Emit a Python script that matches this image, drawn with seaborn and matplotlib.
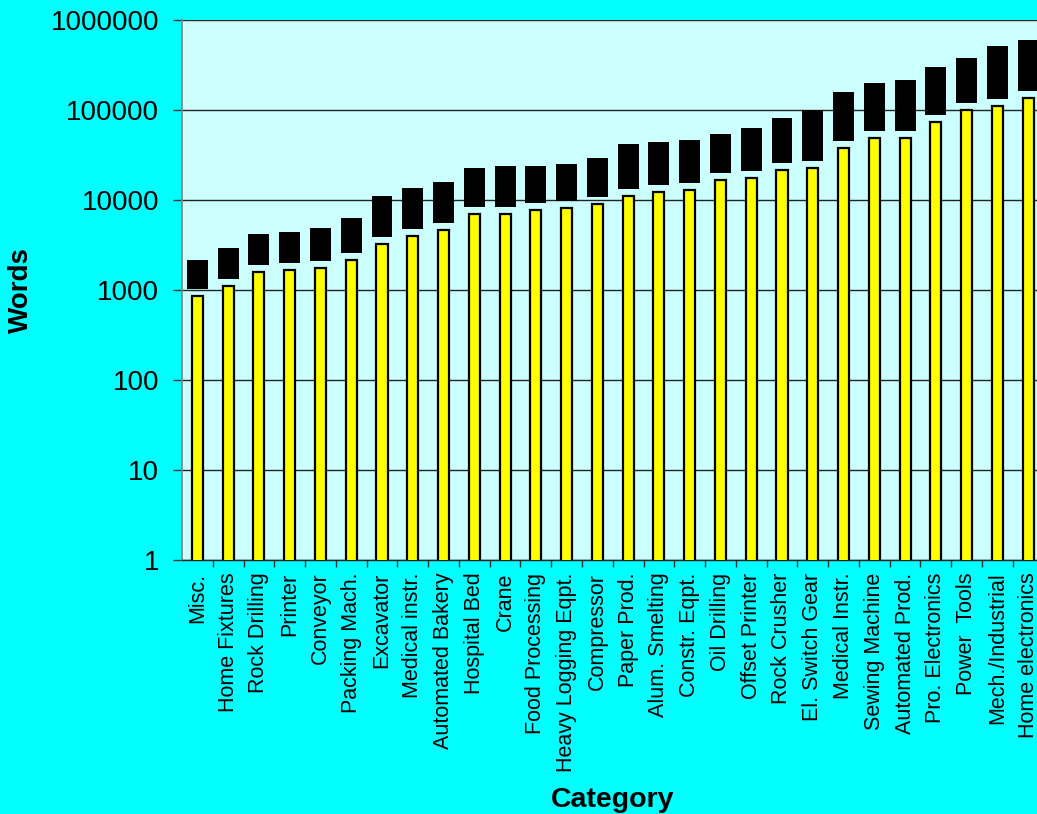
import matplotlib
matplotlib.use("Agg")
import matplotlib.pyplot as plt
import matplotlib.ticker as mticker
import numpy as np
import pandas as pd
import seaborn as sns

# --- chart data ---
categories = ["Misc.", "Home Fixtures", "Rock Drilling", "Printer", "Conveyor",
              "Packing Mach.", "Excavator", "Medical instr.", "Automated Bakery",
              "Hospital Bed", "Crane", "Food Processing", "Heavy Logging Eqpt.",
              "Compressor", "Paper Prod.", "Alum. Smelting", "Constr. Eqpt.",
              "Oil Drilling", "Offset Printer", "Rock Crusher", "El. Switch Gear",
              "Medical Instr.", "Sewing Machine", "Automated Prod.", "Pro. Electronics",
              "Power  Tools", "Mech./Industrial", "Home electronics"]

words = [860, 1110, 1590, 1670, 1760, 2150, 3250, 3980, 4640, 6990,
         6990, 7740, 8150, 9100, 11080, 12270, 12900, 16700, 17550, 21500,
         22700, 37800, 48800, 48800, 73600, 100000, 110800, 135900]

range_low = [1034, 1336, 1911, 2010, 2116, 2594, 3915, 4800, 5600, 8430,
             8430, 9330, 9840, 10890, 13360, 14800, 15580, 20130, 21190, 26000,
             27350, 45600, 58900, 58900, 88700, 120500, 133600, 164000]

range_high = [2154, 2929, 4190, 4410, 4884, 6310, 11080, 13600, 15850, 22680,
              23870, 23870, 25120, 29290, 41900, 44100, 46420, 54120, 63100, 81500,
              100000, 158500, 199500, 215400, 300600, 378000, 514000, 599500]

df = pd.DataFrame({"Category": categories, "Words": words,
                   "Low": range_low, "High": range_high})

sns.set_style("white")
plt.rcParams["font.family"] = ["Liberation Sans", "DejaVu Sans"]
plt.rcParams["text.color"] = "black"
plt.rcParams["axes.labelcolor"] = "black"
plt.rcParams["xtick.color"] = "black"
plt.rcParams["ytick.color"] = "black"

fig = plt.figure(figsize=(10.37, 8.14), dpi=100, facecolor="#00FFFF")
ax = fig.add_axes([182 / 1037, 1 - 560 / 814, 861.5 / 1037, 540 / 814])
ax.set_facecolor("#CCFFFF")
ax.set_axisbelow(True)

# yellow bars
sns.barplot(data=df, x="Category", y="Words", color="#FFFF00",
            edgecolor="black", linewidth=1.6, width=0.36, saturation=1,
            order=categories, ax=ax, zorder=3)
ax.set_yscale("log")

# black floating range boxes
pos = np.arange(len(categories))
ax.bar(pos, df["High"] - df["Low"], bottom=df["Low"], width=0.68,
       color="black", edgecolor="none", zorder=3)

ax.set_ylim(1, 1e6)
ax.set_xlim(-0.5, len(categories) - 0.5)
ax.yaxis.set_major_locator(mticker.LogLocator(base=10, numticks=10))
ax.yaxis.set_minor_locator(mticker.NullLocator())
ax.yaxis.set_major_formatter(mticker.FuncFormatter(lambda v, p: f"{int(round(v))}"))
ax.grid(axis="y", color="#222222", linewidth=1.0)
ax.grid(axis="x", visible=False)

ax.tick_params(axis="y", which="major", direction="out", length=6.5, width=1,
               color="#333333", labelcolor="black", labelsize=20, pad=10, left=True)
ax.set_xticks(pos)
ax.set_xticklabels(categories, rotation=90, fontsize=15.5, va="top", ha="center",
                   color="black")
ax.set_xticks(pos[:-1] + 0.5, minor=True)
ax.tick_params(axis="x", which="major", length=0, pad=9)
ax.tick_params(axis="x", which="minor", direction="out", length=5, width=1,
               color="#333333", bottom=True)

for side in ["top", "right"]:
    ax.spines[side].set_visible(False)
ax.spines["left"].set_color("#808080")
ax.spines["left"].set_linewidth(1.2)
ax.spines["bottom"].set_color("#222222")
ax.spines["bottom"].set_linewidth(1.0)

ax.set_xlabel("Category", fontsize=20.5, fontweight="bold", color="black")
ax.set_ylabel("Words", fontsize=20, fontweight="bold", color="black")
ax.xaxis.label.set_va("center")
ax.xaxis.set_label_coords(0.5, -0.444)
ax.yaxis.label.set_va("center")
ax.yaxis.set_label_coords(-0.187, 0.5)

fig.savefig("out.png", dpi=100, facecolor=fig.get_facecolor())
